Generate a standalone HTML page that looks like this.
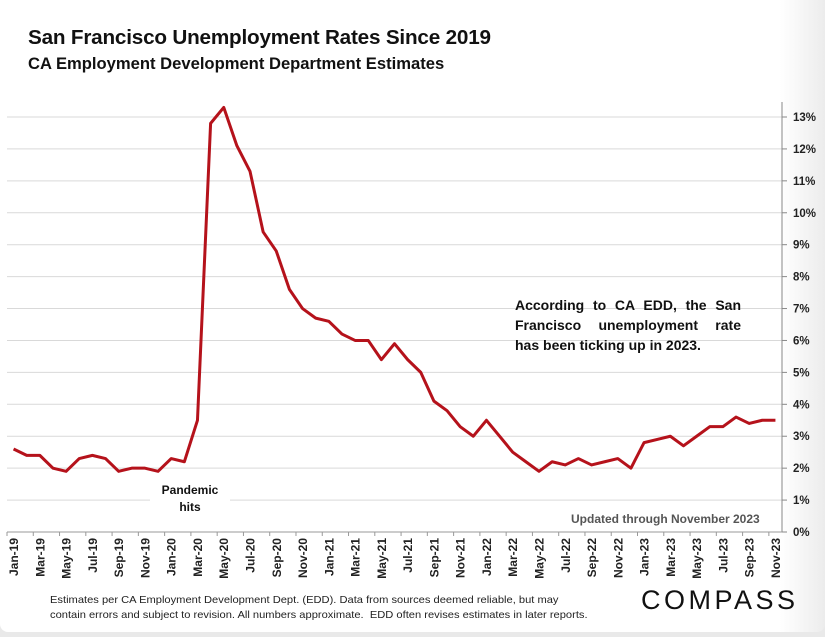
<!DOCTYPE html>
<html><head><meta charset="utf-8"><style>
body{margin:0;width:825px;height:637px;overflow:hidden;background:#e9e9e9;font-family:"Liberation Sans",sans-serif;}
#card{position:absolute;left:0;top:0;width:825px;height:632px;background:linear-gradient(to right,#fff 0,#fff 780px,#ececec 825px);border-radius:0 0 8px 8px;}
.t{position:absolute;color:#111;font-weight:bold;}
</style></head><body>
<div id="card">
<div class="t" style="left:28px;top:26px;font-size:20.7px;letter-spacing:-0.2px;">San Francisco Unemployment Rates Since 2019</div>
<div class="t" style="left:28px;top:54px;font-size:16.6px;">CA Employment Development Department Estimates</div>
<svg id="chart" width="825" height="637" style="position:absolute;left:0;top:0"></svg>
<div class="t" style="left:515px;top:295px;width:226px;font-size:14px;line-height:20px;text-align:justify;text-align-last:left;">According to CA EDD, the San Francisco unemployment rate has been ticking up in 2023.</div>
<div class="t" style="left:150px;top:482px;width:80px;text-align:center;font-size:12px;line-height:17px;background:#fff;">Pandemic<br>hits</div>
<div class="t" style="left:571px;top:512px;font-size:12px;color:#555;">Updated through November 2023</div>
<div class="t" style="left:50px;top:593px;font-size:10.5px;font-weight:normal;line-height:15px;color:#222;white-space:nowrap;transform:scaleX(1.06);transform-origin:left;">Estimates per CA Employment Development Dept. (EDD). Data from sources deemed reliable, but may<br>contain errors and subject to revision. All numbers approximate.&nbsp; EDD often revises estimates in later reports.</div>
<div style="position:absolute;left:641px;top:585px;font-size:27px;letter-spacing:3.5px;color:#111;">COMPASS</div>
</div>
<script>
const months=["Jan","Feb","Mar","Apr","May","Jun","Jul","Aug","Sep","Oct","Nov","Dec"];
const categories=[];
for(let y=19;y<=23;y++)for(let m=0;m<12;m++){if(y===23&&m>10)break;categories.push(months[m]+"-"+y);}
const rates=[2.6,2.4,2.4,2.0,1.9,2.3,2.4,2.3,1.9,2.0,2.0,1.9,
2.3,2.2,3.5,12.8,13.3,12.1,11.3,9.4,8.8,7.6,7.0,6.7,
6.6,6.2,6.0,6.0,5.4,5.9,5.4,5.0,4.1,3.8,3.3,3.0,
3.5,3.0,2.5,2.2,1.9,2.2,2.1,2.3,2.1,2.2,2.3,2.0,
2.8,2.9,3.0,2.7,3.0,3.3,3.3,3.6,3.4,3.5,3.5];
const yTicks=[0,1,2,3,4,5,6,7,8,9,10,11,12,13];
const X0=7,X1=782,Y0=532,Y13=117;
const step=(X1-X0)/categories.length;
const xs=i=>X0+step*(i+0.5);
const ys=v=>Y0-(Y0-Y13)*v/13;
const svg=document.getElementById('chart');const NS="http://www.w3.org/2000/svg";
function mk(t,a){const e=document.createElementNS(NS,t);for(const k in a)e.setAttribute(k,a[k]);svg.appendChild(e);return e;}
yTicks.forEach(v=>{
 if(v>0){const g=mk('line',{x1:X0,x2:X1,y1:ys(v),y2:ys(v),stroke:'#d9d9d9','stroke-width':1});
 
 }
 const tk=mk('line',{x1:X1,x2:X1+5,y1:ys(v),y2:ys(v),stroke:'#888'});
 
 
 const t=mk('text',{x:X1+11,y:ys(v)+4,'font-size':11.5,'font-weight':'bold',fill:'#222','font-family':'Liberation Sans, sans-serif'});
 t.textContent=v+'%';
 
 
});
const ya=mk('line',{x1:X1,x2:X1,y1:102,y2:Y0,stroke:'#888'});


const xa=mk('line',{x1:X0,x2:X1,y1:Y0,y2:Y0,stroke:'#999'});


categories.forEach((c,i)=>{
 if(i%2===0){
  const tx=X0+step*i;
  const tk=mk('line',{x1:tx,x2:tx,y1:Y0,y2:Y0+4,stroke:'#999'});
  
  
  const x=xs(i)+4.5;
  const t=mk('text',{x:x,y:538,'font-size':12,'font-weight':'bold',fill:'#222','text-anchor':'end','font-family':'Liberation Sans, sans-serif',transform:`rotate(-90 ${x} 538)`});
  t.textContent=c;
  
  
 }
});
const p=mk('polyline',{points:rates.map((v,i)=>xs(i)+','+ys(v)).join(' '),fill:'none',stroke:'#b5121b','stroke-width':3,'stroke-linejoin':'round'});


</script>
</body></html>
